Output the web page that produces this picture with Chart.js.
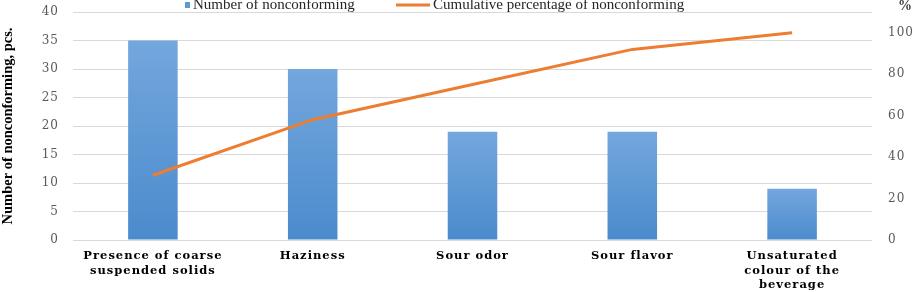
<!DOCTYPE html>
<html>
<head>
<meta charset="utf-8">
<script src="https://cdn.jsdelivr.net/npm/chart.js@4.4.1/dist/chart.umd.min.js"></script>
<style>
  html, body { margin: 0; padding: 0; background: #fff; }
  #wrap { width: 917px; height: 292px; }
</style>
</head>
<body>
<div id="wrap"><canvas id="chart"></canvas></div>
<script>
// chart data
const categories = [
  ['Presence of coarse', 'suspended solids'],
  'Haziness',
  'Sour odor',
  'Sour flavor',
  ['Unsaturated', 'colour of the', 'beverage']
];
const nonconforming = [35, 30, 19, 19, 9];
const cumulativePct = [31.25, 58.04, 75, 91.96, 100];
const countTicks = [0, 5, 10, 15, 20, 25, 30, 35, 40];
const pctTicks = [0, 20, 40, 60, 80, 100];

const SERIF = '"Liberation Serif", "Times New Roman", serif';
const WIDE_SERIF = '"DejaVu Serif", serif';

// per-bar vertical gradient like the office style fill
function barFill(ctx) {
  const chart = ctx.chart;
  const y = chart.scales.y;
  if (!chart.chartArea || !y || ctx.raw == null) return '#5b9bd5';
  const top = y.getPixelForValue(ctx.raw);
  const g = chart.ctx.createLinearGradient(0, top, 0, y.getPixelForValue(0));
  g.addColorStop(0, '#73a7de');
  g.addColorStop(1, '#4b8bcc');
  return g;
}

// the source image has wide, slightly spaced axis text; the rotated title stays plain
const spacedText = {
  id: 'spacedText',
  beforeDraw(chart) {
    const y = chart.scales.y;
    if (y && !y._plainTitle) {
      const orig = y.drawTitle;
      y.drawTitle = function (...args) {
        const c = this.ctx;
        const ls = c.letterSpacing;
        c.letterSpacing = '0px';
        orig.apply(this, args);
        c.letterSpacing = ls;
      };
      y._plainTitle = true;
    }
    chart.ctx.letterSpacing = '1px';
  },
  afterDraw(chart) {
    chart.ctx.letterSpacing = '0px';
  }
};

// legend drawn over the top of the plot, plus the "%" unit label
const topLegend = {
  id: 'topLegend',
  afterDraw(chart) {
    const c = chart.ctx;
    const ds = chart.data.datasets;
    c.save();
    c.letterSpacing = '0px';
    c.font = '15px ' + SERIF;
    c.textBaseline = 'alphabetic';
    c.textAlign = 'left';
    // bar series
    c.fillStyle = '#5b9bd5';
    c.fillRect(185, 2, 5, 6);
    c.fillStyle = '#262626';
    c.fillText(ds[0].label, 193, 9);
    // line series
    c.strokeStyle = '#ed7d31';
    c.lineWidth = 3;
    c.beginPath();
    c.moveTo(396, 5);
    c.lineTo(430, 5);
    c.stroke();
    c.fillText(ds[1].label, 433, 9);
    // unit of the right axis
    c.font = 'bold 14px ' + SERIF;
    c.textAlign = 'center';
    c.fillStyle = '#404040';
    c.fillText('%', 905, 10);
    c.restore();
  }
};

document.addEventListener('DOMContentLoaded', () => {
  const ctx = document.getElementById('chart').getContext('2d');
  new Chart(ctx, {
    data: {
      labels: categories,
      datasets: [
        {
          type: 'bar',
          label: 'Number of nonconforming',
          data: nonconforming,
          yAxisID: 'y',
          backgroundColor: barFill,
          categoryPercentage: 1,
          barPercentage: 0.31,
          order: 1
        },
        {
          type: 'line',
          label: 'Cumulative percentage of nonconforming',
          data: cumulativePct,
          yAxisID: 'y1',
          borderColor: '#ed7d31',
          borderWidth: 3,
          pointRadius: 0,
          tension: 0,
          order: 0
        }
      ]
    },
    options: {
      responsive: true,
      maintainAspectRatio: false,
      animation: false,
      devicePixelRatio: 1,
      layout: { padding: { top: 12, left: 0, right: 0, bottom: 0 } },
      plugins: { legend: { display: false }, tooltip: { enabled: false } },
      scales: {
        x: {
          grid: { display: false, drawTicks: false },
          border: { display: false },
          ticks: {
            autoSkip: false, maxRotation: 0, padding: 9,
            color: '#000',
            font: { family: WIDE_SERIF, size: 11.5, weight: 'bold', lineHeight: 1.27 }
          },
          afterFit: s => { s.height = 52; }
        },
        y: {
          position: 'left',
          min: 0, max: 40,
          // invisible tick marks give the label gap without padding the top
          grid: { color: '#d9d9d9', drawTicks: true, tickLength: 14, tickColor: 'rgba(0,0,0,0)' },
          border: { display: false },
          ticks: {
            padding: 0, color: '#595959',
            font: { family: WIDE_SERIF, size: 12 }
          },
          afterBuildTicks: s => { s.ticks = countTicks.map(v => ({ value: v })); },
          title: {
            display: true,
            text: 'Number of nonconforming, pcs.',
            color: '#000',
            padding: { top: 0, bottom: 0 },
            font: { family: SERIF, size: 14.5, weight: 'bold' }
          },
          afterFit: s => { s.width = 73; }
        },
        y1: {
          position: 'right',
          min: 0, max: 110,
          grid: { display: false, drawTicks: true, tickLength: 16 },
          border: { display: false },
          ticks: {
            padding: 0, color: '#595959',
            font: { family: WIDE_SERIF, size: 12 }
          },
          afterBuildTicks: s => { s.ticks = pctTicks.map(v => ({ value: v })); },
          afterFit: s => { s.width = 45; }
        }
      }
    },
    plugins: [spacedText, topLegend]
  });
});
</script>
</body>
</html>
